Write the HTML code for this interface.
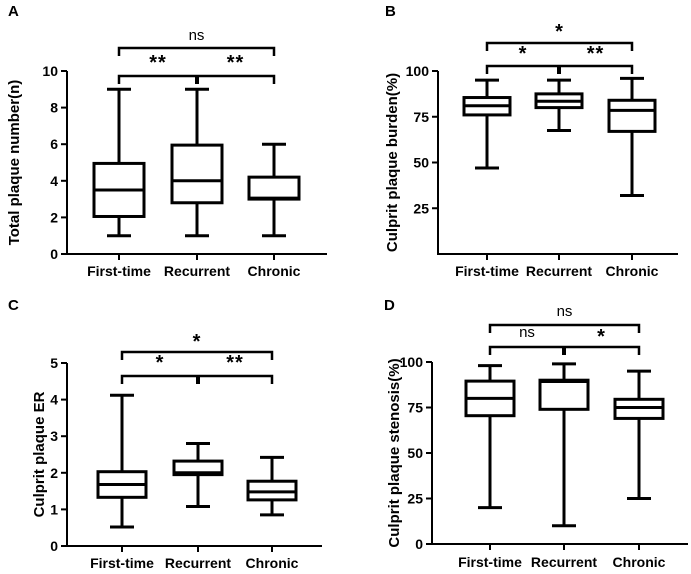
<!DOCTYPE html>
<html><head><meta charset="utf-8"><style>
body{margin:0;background:#fff;}
svg{display:block;font-family:"Liberation Sans",Arial,sans-serif;}
</style></head><body>
<svg id="fig" width="691" height="574" viewBox="0 0 691 574"></svg>
<script>
const categories = ["First-time","Recurrent","Chronic"];
// [min, q1, median, q3, max]
const panelAValues = [[1,2.05,3.5,4.95,9],[1,2.8,4.0,5.95,9],[1,3.0,3.05,4.2,6]];
const panelBValues = [[47,76,81,85.5,95],[67.5,80,83.5,87.5,95],[32,67,78.5,84,96]];
const panelCValues = [[0.52,1.33,1.68,2.03,4.12],[1.08,1.95,2.0,2.32,2.8],[0.85,1.26,1.48,1.77,2.42]];
const panelDValues = [[20,70.5,80,89.5,98],[10,74,89.3,90,99],[25,69,75,79.5,95]];
const panelATicks = [0,2,4,6,8,10];
const panelBTicks = [25,50,75,100];
const panelCTicks = [0,1,2,3,4,5];
const panelDTicks = [0,25,50,75,100];
const panelASig = ["ns","**","**"];
const panelBSig = ["*","*","**"];
const panelCSig = ["*","*","**"];
const panelDSig = ["ns","ns","*"];

const NS="http://www.w3.org/2000/svg";
const svg=document.getElementById('fig');
function mk(tag,attrs,parent,text){const e=document.createElementNS(NS,tag);for(const k in attrs)e.setAttribute(k,attrs[k]);if(text!==undefined)e.textContent=text;(parent||svg).appendChild(e);return e;}

function panel(cfg){
  const g=mk('g',{});
  
  
  const y=v=>cfg.y0-(v-cfg.vmin)/(cfg.vmax-cfg.vmin)*(cfg.y0-cfg.y1);
  const x=i=>cfg.xs[i];
  const L=mk('text',{x:cfg.lx,y:cfg.ly,'font-size':15,'font-weight':'bold'},g,cfg.letter);
  
  
  const yb=y(cfg.vmin);
  const ax=mk('path',{d:`M${cfg.ax} ${y(cfg.axTop)}V${yb}H${cfg.axRight}`,stroke:'#000','stroke-width':2,fill:'none'},g);
  
  
  cfg.ticks.forEach(t=>{
    mk('line',{x1:cfg.ax-6,x2:cfg.ax,y1:y(t),y2:y(t),stroke:'#000','stroke-width':2},g);
    const tl=mk('text',{x:cfg.ax-9,y:y(t)+5,'font-size':14,'font-weight':'bold','text-anchor':'end'},g,String(t));
    
    
  });
  const yt=mk('text',{x:0,y:0,'font-size':15,'font-weight':'bold','text-anchor':'middle',transform:`translate(${cfg.titleX},${(y(cfg.axTop)+yb)/2}) rotate(-90)`},g,cfg.title);
  
  
  categories.forEach((c,i)=>{
    mk('line',{x1:x(i),x2:x(i),y1:yb,y2:yb+6,stroke:'#000','stroke-width':2},g);
    const cl=mk('text',{x:x(i),y:cfg.xlabY,'font-size':14,'font-weight':'bold','text-anchor':'middle'},g,c);
    
    
    const d=cfg.values[i];const hw=cfg.hw,cw=12;
    const bg=mk('g',{stroke:'#000','stroke-width':3,fill:'none'},g);
    
    
    mk('line',{x1:x(i),x2:x(i),y1:y(d[0]),y2:y(d[1])},bg);
    mk('line',{x1:x(i),x2:x(i),y1:y(d[3]),y2:y(d[4])},bg);
    mk('line',{x1:x(i)-cw,x2:x(i)+cw,y1:y(d[0]),y2:y(d[0])},bg);
    mk('line',{x1:x(i)-cw,x2:x(i)+cw,y1:y(d[4]),y2:y(d[4])},bg);
    mk('rect',{x:x(i)-hw,y:y(d[3]),width:2*hw,height:y(d[1])-y(d[3]),fill:'#fff'},bg);
    mk('line',{x1:x(i)-hw,x2:x(i)+hw,y1:y(d[2]),y2:y(d[2])},bg);
  });
  const br=mk('g',{stroke:'#000','stroke-width':2.5,fill:'none'},g);
  
  
  mk('path',{d:`M${x(0)} ${cfg.bLow+8}V${cfg.bLow}H${x(2)}V${cfg.bLow+8}`},br);
  mk('path',{d:`M${x(1)} ${cfg.bLow}V${cfg.bLow+8}`,'stroke-width':4},br);
  mk('path',{d:`M${x(0)} ${cfg.bHigh+8}V${cfg.bHigh}H${x(2)}V${cfg.bHigh+8}`},br);
  const s=cfg.sig;
  [[(x(0)+x(2))/2,cfg.topTextY,s[0]],[(x(0)+x(1))/2,cfg.lowTextY,s[1]],[(x(1)+x(2))/2,cfg.lowTextY,s[2]]].forEach(([tx,ty,t])=>{
    const star=t.indexOf('*')>=0;
    const e=mk('text',{x:tx,y:ty+(star?6:0),'font-size':star?20:15,'font-weight':star?'bold':'normal','text-anchor':'middle','letter-spacing':star?1:0},g,t);
    
    
  });
}
panel({letter:'A',lx:8,ly:16,values:panelAValues,ticks:panelATicks,vmin:0,vmax:10,axTop:10,y0:254,y1:71,ax:67,axRight:327,xs:[119,197,274],hw:25,title:'Total plaque number(n)',titleX:19,xlabY:276,bLow:76,bHigh:48,topTextY:40,lowTextY:63,sig:panelASig});
panel({letter:'B',lx:385,ly:16,values:panelBValues,ticks:panelBTicks,vmin:0,vmax:100,axTop:100,y0:254,y1:71,ax:438,axRight:678,xs:[487,559,632],hw:23,title:'Culprit plaque burden(%)',titleX:397,xlabY:276,bLow:66,bHigh:43,topTextY:32,lowTextY:54,sig:panelBSig});
panel({letter:'C',lx:8,ly:310,values:panelCValues,ticks:panelCTicks,vmin:0,vmax:5,axTop:5,y0:546,y1:363,ax:67,axRight:322,xs:[122,198,272],hw:24,title:'Culprit plaque ER',titleX:44,xlabY:568,bLow:376,bHigh:352,topTextY:342,lowTextY:363,sig:panelCSig});
panel({letter:'D',lx:384,ly:310,values:panelDValues,ticks:panelDTicks,vmin:0,vmax:100,axTop:100,y0:544,y1:362,ax:432,axRight:688,xs:[490,564,639],hw:24,title:'Culprit plaque stenosis(%)',titleX:399,xlabY:567,bLow:347,bHigh:325,topTextY:316,lowTextY:337,sig:panelDSig});
</script>
</body></html>
